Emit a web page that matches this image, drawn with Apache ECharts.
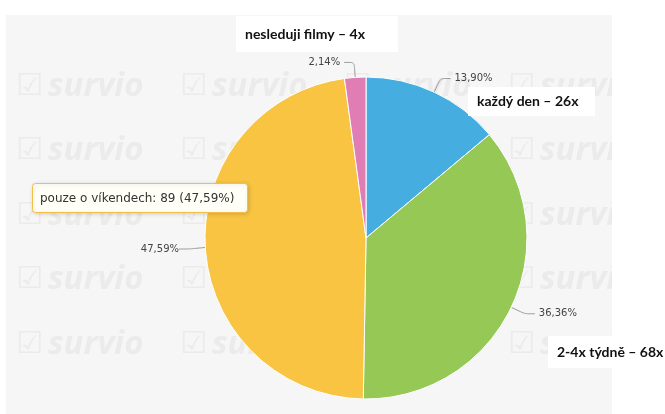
<!DOCTYPE html>
<html>
<head>
<meta charset="utf-8">
<style>html,body{margin:0;padding:0;background:#fff;}#c{width:665px;height:414px;}</style>
<script src="https://cdn.jsdelivr.net/npm/echarts@6/dist/echarts.min.js"></script>
</head>
<body>
<div id="c"></div>
<script>
const categories = ['každý den', '2-4x týdně', 'pouze o víkendech', 'nesleduji filmy'];
const counts = [26, 68, 89, 4];
const sliceColors = ['#45ADE0', '#96C855', '#F8C442', '#E07DB4'];
const tooltipIndex = 2;
// annotation boxes (x, y, w, h) for categories 3, 0, 1
const annotations = [
  { idx: 3, box: [236, 16, 162, 36] },
  { idx: 0, box: [468, 87, 127, 29] },
  { idx: 1, box: [548, 336, 117, 32] }
];

const total = counts.reduce((a, b) => a + b, 0);
const pctStr = v => (v / total * 100).toFixed(2).replace('.', ',') + '%';

const CX = 366, CY = 238, R = 161;

const graphics = [];
// panel background
graphics.push({ type: 'rect', z: -20, silent: true, shape: { x: 6, y: 15, width: 606, height: 399 }, style: { fill: '#f6f6f6' } });
// watermark grid
const wmRows = [87, 151, 216, 280, 345];
const wmCols = [16, 180, 344, 508];
wmRows.forEach(y => wmCols.forEach(x => {
  graphics.push({ type: 'text', z: -15, silent: true, x: x, y: y, style: { text: '☑', font: 'bold 30px "DejaVu Sans"', fill: '#ebebeb', verticalAlign: 'middle', align: 'left' } });
  graphics.push({ type: 'text', z: -15, silent: true, x: x + 32, y: y, style: { text: 'survio', font: 'italic bold 33px "Open Sans"', fill: '#ebebeb', verticalAlign: 'middle', align: 'left' } });
}));
// cover right outside panel
graphics.push({ type: 'rect', z: -14, silent: true, shape: { x: 612, y: 0, width: 53, height: 414 }, style: { fill: '#ffffff' } });
// annotation boxes
annotations.forEach(a => {
  const [x, y, w, h] = a.box;
  graphics.push({ type: 'rect', z: 50, silent: true, shape: { x: x, y: y, width: w, height: h }, style: { fill: '#ffffff' } });
  graphics.push({ type: 'text', z: 51, silent: true, x: x + 9, y: y + h / 2, style: { text: categories[a.idx] + ' – ' + counts[a.idx] + 'x', font: 'bold 14px Lato', fill: '#111', verticalAlign: 'middle', align: 'left' } });
});
// tooltip box
graphics.push({ type: 'rect', z: 60, silent: true, shape: { x: 32.5, y: 183.5, width: 215, height: 29, r: 3 }, style: { fill: '#fffef7', stroke: '#F2BE45', lineWidth: 1, shadowBlur: 4, shadowColor: 'rgba(0,0,0,0.15)', shadowOffsetX: 1, shadowOffsetY: 1 } });
graphics.push({ type: 'text', z: 61, silent: true, x: 40, y: 198.5, style: { text: categories[tooltipIndex] + ': ' + counts[tooltipIndex] + ' (' + pctStr(counts[tooltipIndex]).replace('%', '') + '%)', font: '12px "DejaVu Sans"', fill: '#333', verticalAlign: 'middle', align: 'left' } });

const chart = echarts.init(document.getElementById('c'), null, { renderer: 'canvas' });
chart.setOption({
  backgroundColor: '#ffffff',
  animation: false,
  graphic: { elements: graphics },
  series: [{
    type: 'pie',
    center: [CX, CY],
    radius: R,
    startAngle: 90,
    clockwise: true,
    avoidLabelOverlap: false,
    emphasis: { disabled: true },
    itemStyle: { borderColor: '#ffffff', borderWidth: 1 },
    label: {
      show: true, position: 'outside',
      formatter: p => pctStr(p.value),
      fontFamily: 'DejaVu Sans', fontSize: 10, color: '#444',
      distanceToLabelLine: 4
    },
    labelLine: { show: true, length: 15, length2: 10, smooth: 0.2, lineStyle: { color: '#999', width: 1 } },
    labelLayout: function (params) {
      if (params.dataIndex === tooltipIndex) {
        return { x: CX - R - 26, y: CY + 11, align: 'right', verticalAlign: 'middle' };
      }
    },
    data: categories.map((n, i) => ({ name: n, value: counts[i], itemStyle: { color: sliceColors[i] } }))
  }]
});
</script>
</body>
</html>
